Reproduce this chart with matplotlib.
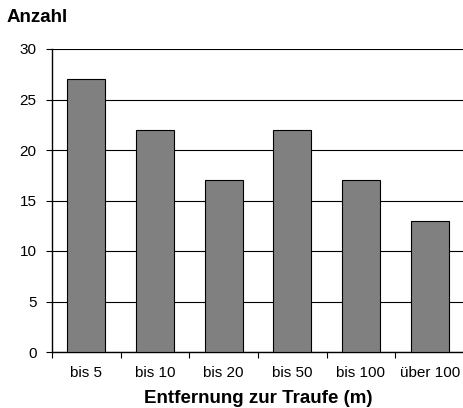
import numpy as np
import matplotlib.pyplot as plt

categories = ["bis 5", "bis 10", "bis 20", "bis 50", "bis 100", "über 100"]
counts = [27, 22, 17, 22, 17, 13]
yticks = [0, 5, 10, 15, 20, 25, 30]

plt.rcParams['font.family'] = ['Liberation Sans', 'DejaVu Sans']

fig = plt.figure(figsize=(4.64, 4.08), dpi=100)
ax = fig.add_axes([52/464, 56/408, 1 - 52/464, 303/408])

x = np.arange(len(categories))
ax.bar(x, counts, width=0.55, color="#808080", edgecolor="black", linewidth=0.8, zorder=3)

ax.set_xlim(-0.5, len(categories) - 0.5)
ax.set_ylim(0, 30)
ax.set_yticks(yticks)
ax.yaxis.grid(True, color="black", linewidth=0.8, zorder=0)
ax.tick_params(axis="y", labelsize=11, length=4, width=0.8, direction="out", pad=7)

# labels at centers, tick marks at category boundaries
ax.set_xticks(x)
ax.set_xticklabels(categories, fontsize=11)
ax.tick_params(axis="x", which="major", length=0, pad=10)
ax.set_xticks(np.arange(len(categories) + 1) - 0.5, minor=True)
ax.tick_params(axis="x", which="minor", length=4, width=0.8, direction="out")

for s in ["top", "right"]:
    ax.spines[s].set_visible(False)
ax.spines["left"].set_linewidth(1)
ax.spines["bottom"].set_linewidth(1)

ax.set_xlabel("Entfernung zur Traufe (m)", fontsize=13.5, fontweight="bold", labelpad=7)
fig.text(7/464, 1 - 18/408, "Anzahl", fontsize=13.5, fontweight="bold", va="center", ha="left")

fig.savefig("out.png", dpi=100)
